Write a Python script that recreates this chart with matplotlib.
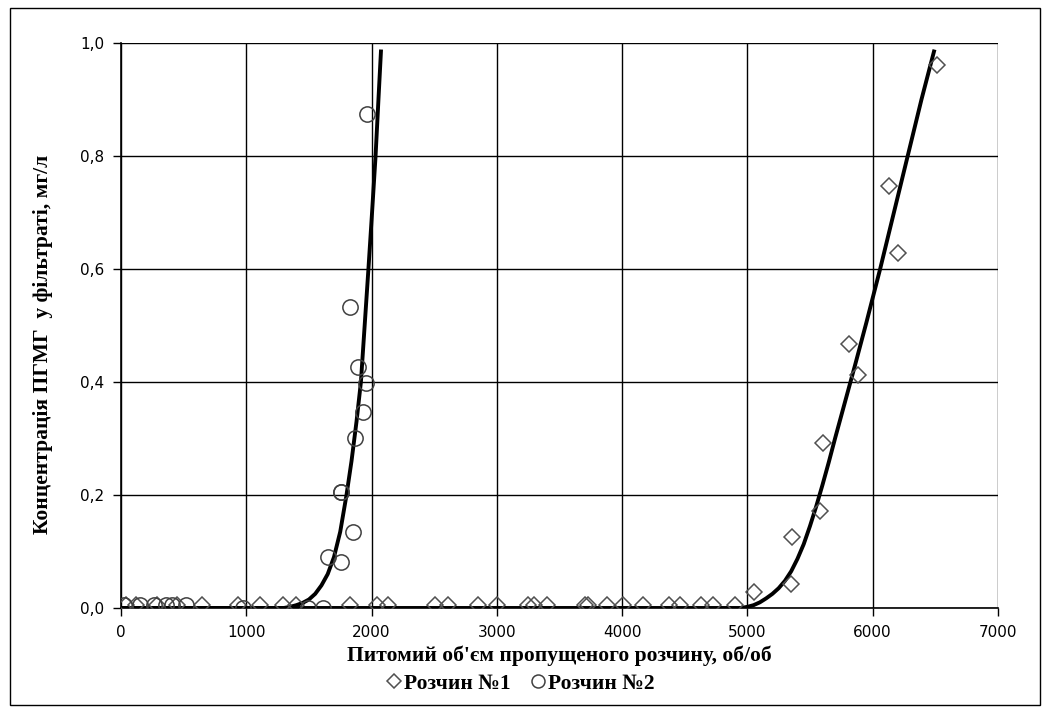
import matplotlib.pyplot as plt
from matplotlib.patches import Rectangle
from matplotlib.ticker import FuncFormatter

# Розчин №1 (diamonds)
sol1_x = [40, 120, 290, 450, 650, 930, 1110, 1290, 1400, 1830, 2045, 2130, 2505, 2610,
          2850, 3000, 3250, 3300, 3400, 3700, 3730, 3880, 4010, 4165, 4375, 4460, 4630,
          4725, 4900, 5055, 5345, 5355, 5580, 5607, 5810, 5885, 6127, 6200, 6510]
sol1_y = [0.006] * 29 + [0.028, 0.043, 0.125, 0.172, 0.292, 0.468, 0.413, 0.746, 0.629, 0.961]

# Розчин №2 (circles)
sol2_x = [20, 150, 260, 360, 410, 520, 970, 1490, 1610, 1650, 1755, 1760, 1848, 1760,
          1867, 1934, 1955, 1888, 1827, 1965]
sol2_y = [0.006, 0.006, 0.006, 0.006, 0.006, 0.006, 0.0, 0.0, 0.0, 0.09, 0.081, 0.206,
          0.134, 0.206, 0.301, 0.347, 0.399, 0.426, 0.533, 0.875]

# trend curves
fit1_x = [0, 4950, 5000, 5050, 5100, 5150, 5200, 5250, 5300, 5350, 5400, 5450, 5500, 5550,
          5600, 5650, 5700, 5780, 5860, 5950, 6060, 6170, 6280, 6390, 6490]
fit1_y = [0, 0, 0.002, 0.005, 0.01, 0.017, 0.025, 0.035, 0.048, 0.065, 0.087, 0.113, 0.145,
          0.18, 0.218, 0.258, 0.3, 0.365, 0.43, 0.505, 0.6, 0.7, 0.8, 0.9, 0.985]
fit2_x = [0, 1300, 1350, 1400, 1450, 1500, 1550, 1600, 1650, 1700, 1750, 1800, 1840, 1880,
          1915, 1945, 1975, 2004, 2032, 2055, 2075]
fit2_y = [0, 0, 0.002, 0.005, 0.009, 0.015, 0.025, 0.04, 0.06, 0.09, 0.135, 0.2, 0.26,
          0.33, 0.4, 0.5, 0.6, 0.7, 0.8, 0.9, 0.985]

serif_bold = {"family": "Liberation Serif", "weight": "bold", "size": 15.5}

fig = plt.figure(figsize=(10.46, 7.13), dpi=100)
ax = fig.add_axes([0.1157, 0.1473, 0.8383, 0.7924])

ax.plot(fit1_x, fit1_y, color="black", lw=2.8, zorder=4)
ax.plot(fit2_x, fit2_y, color="black", lw=2.8, zorder=4)
ax.plot(sol1_x, sol1_y, ls="none", marker="D", ms=8.5, mfc="none", mec="#505050",
        mew=1.1, label="Розчин №1", zorder=5)
ax.plot(sol2_x, sol2_y, ls="none", marker="o", ms=11, mfc="none", mec="#404040",
        mew=1.1, label="Розчин №2", zorder=5)

ax.set_xlim(0, 7000)
ax.set_ylim(0, 1.0)
ax.set_xticks(range(0, 7001, 1000))
ax.set_yticks([0, 0.2, 0.4, 0.6, 0.8, 1.0])
ax.yaxis.set_major_formatter(FuncFormatter(lambda v, p: f"{v:.1f}".replace(".", ",")))
ax.grid(True, color="black", lw=1.0)
ax.set_axisbelow(True)
for s in ["top", "right"]:
    ax.spines[s].set_visible(False)
ax.spines["left"].set_linewidth(1.2)
ax.spines["bottom"].set_linewidth(1.2)
ax.tick_params(direction="out", length=6, width=1, labelsize=11, colors="black", pad=6)

ax.set_xlabel("Питомий об'єм пропущеного розчину, об/об", fontdict=serif_bold, labelpad=4)
ax.set_ylabel("Концентрація ПГМГ  у фільтраті, мг/л", fontdict=serif_bold)
ax.yaxis.set_label_coords(-0.078, 0.467)

fig.legend(loc="lower center", bbox_to_anchor=(0.497, 0.0), ncol=2, frameon=False,
           prop={"family": "Liberation Serif", "weight": "bold", "size": 15.5},
           handletextpad=0.05, columnspacing=0.9, handlelength=0.8, markerscale=0.85)

fig.patches.append(Rectangle((0.0096, 0.011), 0.985, 0.978, transform=fig.transFigure,
                             fill=False, edgecolor="black", lw=1.0))

fig.savefig("out.png", dpi=100)
